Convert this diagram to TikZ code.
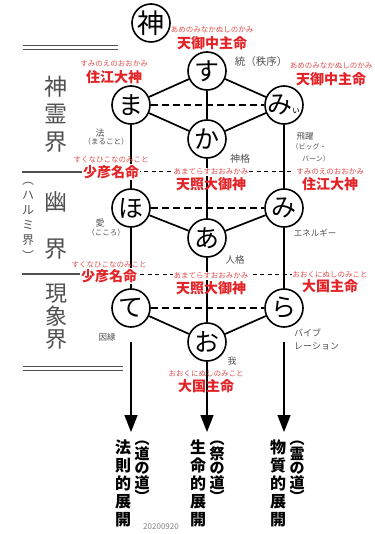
\documentclass[tikz,border=0pt]{standalone}
\usepackage{fontspec}
\setmainfont{Noto Sans CJK JP}
\usetikzlibrary{arrows.meta, positioning}

\definecolor{shinred}{RGB}{226,36,40}
\definecolor{yomired}{RGB}{228,78,78}
\definecolor{notegray}{RGB}{80,80,80}

\begin{document}
\begin{tikzpicture}[
        x = 1pt, y = -1pt,
        on grid,
        >= {Triangle[length = 17pt, width = 13pt]},
        kana/.style = {circle, draw, line width = 1.6pt, minimum size = 38pt, inner sep = 0pt, font = \fontsize{25}{25}\selectfont},
        link/.style = {line width = 1.7pt},
        hado/.style = {line width = 1.3pt, dash pattern = on 7pt off 4pt},
        sakai/.style = {line width = 1pt, dash pattern = on 4pt off 3.5pt},
        shin/.style = {text = shinred, inner sep = 1pt, font = \bfseries\fontsize{14}{14}\selectfont},
        yomi/.style = {text = yomired, inner sep = 0.5pt, font = \fontsize{7.5}{7.5}\selectfont},
        note/.style = {text = notegray, inner sep = 0pt},
        kai/.style = {text = notegray, align = center, inner sep = 0pt},
        michi/.style = {align = center, inner sep = 0pt, font = \bfseries\fontsize{16}{18}\selectfont}
    ]

    \useasboundingbox (0,0) rectangle (374,534);

    % the sounds
    \node[kana, font = \fontsize{27}{27}\selectfont] (kami) at (151,23) {神};
    \node[kana] (su) at (207,71) {す};
    \node[kana] (ma) [below left = 34pt and 76pt of su] {ま};
    \node[kana] (mii) [below right = 34pt and 77pt of su] {\makebox[0pt]{み\kern-1pt{\fontsize{9}{9}\selectfont ぃ}}};
    \node[kana] (ka) [below = 68pt of su] {か};
    \node[kana] (ho) [below = 103pt of ma] {ほ};
    \node[kana] (mi) [below = 103pt of mii] {み};
    \node[kana] (a) [below = 99pt of ka] {あ};
    \node[kana] (te) [below = 100pt of ho] {て};
    \node[kana] (ra) [below = 100pt of mi] {ら};
    \node[kana] (o) [below = 104pt of a] {お};

    \coordinate[below = 124pt of te] (hosoku);
    \coordinate[below = 90pt of o] (seimei);
    \coordinate[below = 124pt of ra] (busshitsu);

    \path[link]
        (su) edge (ma)
        (su) edge (mii)
        (su) edge (ka)
        (ma) edge (ka)
        (mii) edge (ka)
        (ma) edge (ho)
        (ka) edge (a)
        (mii) edge (mi)
        (ho) edge (a)
        (mi) edge (a)
        (ho) edge (te)
        (a) edge (o)
        (mi) edge (ra)
        (te) edge (o)
        (ra) edge (o);

    \path[hado]
        (ma) edge (mii)
        (ho) edge (mi)
        (te) edge (ra);

    \path[link, ->]
        (te) edge [shorten <= 14pt] (hosoku)
        (o) edge (seimei)
        (ra) edge [shorten <= 14pt] (busshitsu);

    % left panel
    \draw[line width = 0.9pt, notegray] (23,45) -- (118,45) (23,49) -- (118,49);
    \draw[line width = 0.9pt, notegray] (23,366) -- (123,366) (23,370) -- (123,370);
    \draw[line width = 2pt, notegray] (22,172) -- (84,172);
    \draw[line width = 2pt, notegray] (22,274) -- (80,274);
    \draw[sakai] (84,172) -- (292,172);
    \draw[sakai] (80,274) -- (292,274);

    \node[kai, font = \fontsize{23}{27.5}\selectfont] (shinreikai) at (56,114) {神\\霊\\界};
    \node[kai, font = \fontsize{23}{47}\selectfont] (yukai) at (56,226) {幽\\界};
    \node[kai, font = \fontsize{12}{15.2}\selectfont] (harumikai) at (28,221) {︵\\ハ\\ル\\ミ\\界\\︶};
    \node[kai, font = \fontsize{22}{23}\selectfont] (genshoukai) at (56,317) {現\\象\\界};

    % names of the kami
    \node[shin] (ame1) at (212,43) {天御中主命};
    \node[yomi] [above = 13pt of ame1] {あめのみなかぬしのかみ};
    \node[shin] (sumie1) at (114,77) {住江大神};
    \node[yomi] [above = 13pt of sumie1] {すみのえのおおかみ};
    \node[shin] (ame2) at (331,79) {天御中主命};
    \node[yomi] [above = 13pt of ame2] {あめのみなかぬしのかみ};

    \node[shin, fill = white] (sukuna1) at (111,172) {少彦名命};
    \node[yomi] [above = 12pt of sukuna1] {すくなひこなのみこと};
    \node[shin] (amat1) at (211,184) {天照大御神};
    \node[yomi, fill = white] [above = 12pt of amat1] {あまてらすおおみかみ};
    \node[shin] (sumie2) at (330,184) {住江大神};
    \node[yomi, fill = white] [above = 12pt of sumie2] {すみのえのおおかみ};

    \node[shin, fill = white] (sukuna2) at (109,276) {少彦名命};
    \node[yomi] [above = 11pt of sukuna2] {すくなひこなのみこと};
    \node[shin] (amat2) at (211,288) {天照大御神};
    \node[yomi, fill = white] [above = 12pt of amat2] {あまてらすおおみかみ};
    \node[shin] (ookuni1) at (330,286) {大国主命};
    \node[yomi, fill = white] [above = 11pt of ookuni1] {おおくにぬしのみこと};

    \node[shin] (ookuni2) at (206,386) {大国主命};
    \node[yomi] [above = 12pt of ookuni2] {おおくにぬしのみこと};

    % notes
    \node[note, font = \fontsize{10.5}{10.5}\selectfont] (tou) at (261,62) {統（秩序）};
    \node[note, font = \fontsize{9}{9}\selectfont] (hou) at (100,133) {法};
    \node[note, font = \fontsize{7.5}{7.5}\selectfont] (marukoto) at (106,142) {（まること）};
    \node[note, font = \fontsize{10}{10}\selectfont] (shinkaku) at (240,159) {神格};
    \node[note, font = \fontsize{8.5}{8.5}\selectfont] (hiyaku) at (305,136) {飛躍};
    \node[note, font = \fontsize{7}{7}\selectfont] (bigg) at (309,147) {（ビッグ・};
    \node[note, font = \fontsize{7}{7}\selectfont] (bang) at (316,159) {バーン）};
    \node[note, font = \fontsize{9}{9}\selectfont] (ai) at (100,223) {愛};
    \node[note, font = \fontsize{7.5}{7.5}\selectfont] (kokoro) at (106,233) {（こころ）};
    \node[note, font = \fontsize{8.5}{8.5}\selectfont] (energy) at (315,233) {エネルギー};
    \node[note, font = \fontsize{9.5}{9.5}\selectfont] (jinkaku) at (235,260) {人格};
    \node[note, font = \fontsize{8.5}{8.5}\selectfont] (innen) at (107,337) {因縁};
    \node[note, font = \fontsize{9}{9}\selectfont, anchor = west] (vib1) at (294,333) {バイブ};
    \node[note, font = \fontsize{9}{9}\selectfont, anchor = west] (vib2) at (294,346) {レーション};
    \node[note, font = \fontsize{9}{9}\selectfont] (ware) at (232,361) {我};

    % the three ways
    \node[michi] (hosokuteki) at (123,483) {法\\則\\的\\展\\開};
    \node[michi, font = \bfseries\fontsize{15}{14.5}\selectfont] (michinomichi) at (142,472) {︵\\道\\の\\道\\︶};
    \node[michi] (seimeiteki) at (198,483) {生\\命\\的\\展\\開};
    \node[michi, font = \bfseries\fontsize{15}{14.5}\selectfont] (matsurinomichi) at (217,472) {︵\\祭\\の\\道\\︶};
    \node[michi] (busshitsuteki) at (278,483) {物\\質\\的\\展\\開};
    \node[michi, font = \bfseries\fontsize{15}{14.5}\selectfont] (reinomichi) at (297,472) {︵\\霊\\の\\道\\︶};

    \node[text = gray, font = \fontsize{8}{8}\selectfont] (hiduke) at (161,527) {20200920};

\end{tikzpicture}
\end{document}
